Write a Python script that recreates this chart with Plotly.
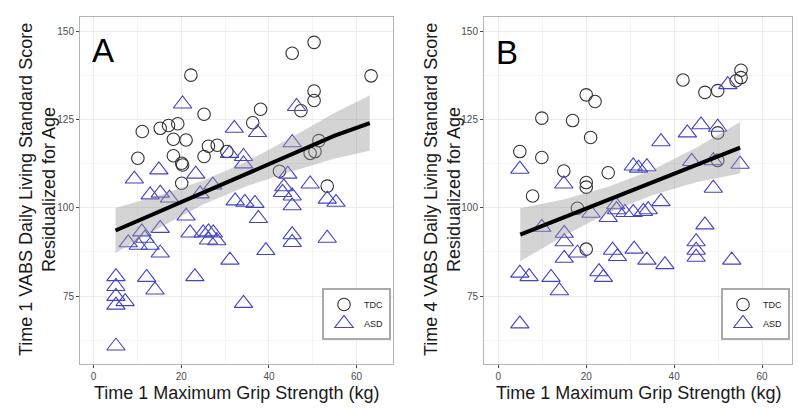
import plotly.graph_objects as go

# ---------------- data ----------------
# Panel A (Time 1)
A_tdc_x = [22.2, 25.2, 11.1, 15.2, 17.1, 19.2, 18.2, 21.1, 10.1, 18.2, 20.1, 20.3, 25.2, 26.2, 28.2,
           30.4, 36.3, 38.1, 20.1, 50.3, 45.3, 63.3, 50.3, 50.3, 47.3, 51.4, 49.4, 50.5, 42.4, 53.3]
A_tdc_y = [137.7, 126.6, 121.7, 122.6, 123.4, 123.9, 119.5, 119.3, 114.1, 114.8, 112.7, 112.2, 114.6, 117.5, 117.8,
           116.0, 124.2, 128.0, 107.0, 147.0, 143.9, 137.5, 133.2, 130.5, 127.6, 119.1, 115.5, 116.0, 110.4, 106.2]

A_asd_x = [20.3, 32.1, 31.0, 34.2, 34.2, 14.9, 9.3, 23.3, 27.2, 12.9, 15.2, 17.3, 24.3, 21.1, 15.2,
           11.0, 7.9, 10.2, 12.9, 11.7, 15.2, 22.0, 25.0, 26.2, 27.3, 26.2, 28.1, 31.1, 32.3, 34.5,
           36.8, 37.6, 5.1, 5.1, 5.1, 5.1, 7.2, 12.1, 14.0, 23.1, 34.2, 5.1, 46.3, 37.4, 45.3,
           44.3, 43.4, 49.4, 43.1, 45.3, 45.3, 53.3, 55.3, 45.3, 45.3, 53.3, 39.3]
A_asd_y = [129.5, 122.6, 115.5, 114.6, 112.5, 110.8, 108.2, 109.6, 106.5, 103.7, 104.2, 102.8, 104.0, 97.7, 94.2,
           93.2, 90.1, 89.4, 89.4, 91.4, 87.2, 92.9, 92.9, 93.2, 92.9, 90.9, 90.7, 85.2, 102.0, 101.6,
           101.3, 97.0, 80.5, 77.7, 74.9, 72.4, 73.4, 80.3, 76.7, 80.5, 72.9, 60.8, 128.8, 121.4, 118.5,
           109.6, 106.0, 106.8, 104.4, 103.4, 100.6, 102.5, 101.6, 92.4, 90.2, 91.4, 87.9]

A_band_x = [5, 15, 25, 35, 45, 55, 63]
A_fit = [93.6, 99.0, 104.4, 109.7, 115.1, 120.5, 124.1]
A_lo = [87.2, 94.4, 101.0, 106.2, 110.3, 114.0, 116.2]
A_hi = [100.0, 103.6, 107.8, 113.2, 119.9, 127.0, 132.0]

# Panel B (Time 4)
B_tdc_x = [20.0, 22.0, 9.9, 16.9, 21.0, 4.9, 9.9, 14.9, 20.0, 20.0, 25.0, 7.8, 18.0, 20.0,
           42.0, 47.0, 49.9, 54.1, 55.2, 55.2, 49.9, 49.9]
B_tdc_y = [132.1, 130.2, 125.5, 124.8, 120.0, 116.0, 114.3, 110.5, 107.2, 105.9, 110.0, 103.4, 99.9, 88.3,
           136.3, 132.8, 133.3, 136.1, 139.1, 137.0, 121.3, 113.5]

B_asd_x = [4.9, 14.9, 30.7, 31.9, 33.8, 21.1, 25.0, 26.9, 28.8, 30.7, 33.0, 26.7, 9.9, 15.0, 15.0,
           18.0, 15.0, 26.0, 27.1, 30.9, 33.8, 4.9, 7.0, 12.0, 13.9, 22.9, 23.9, 4.9, 52.2, 46.1,
           49.9, 43.0, 37.0, 44.0, 48.9, 55.0, 48.9, 37.0, 34.1, 47.0, 45.0, 45.0, 45.0, 37.9, 53.1]
B_asd_y = [111.0, 106.8, 111.9, 111.3, 111.7, 98.5, 97.3, 99.5, 98.7, 98.7, 99.0, 100.9, 94.5, 92.8, 90.4,
           87.2, 85.7, 88.0, 86.2, 88.3, 85.2, 81.5, 80.5, 80.3, 76.5, 81.9, 80.3, 67.1, 135.0, 123.6,
           122.9, 121.3, 118.8, 113.2, 113.4, 112.4, 105.6, 101.8, 99.5, 95.2, 90.4, 88.0, 86.0, 83.9, 85.2]

B_band_x = [5, 15, 25, 35, 45, 55]
B_fit = [92.4, 97.3, 102.3, 107.2, 112.2, 117.1]
B_lo = [84.9, 92.1, 98.6, 103.6, 107.3, 109.8]
B_hi = [99.9, 102.5, 106.0, 110.8, 117.1, 124.4]

x_ticks = [0, 20, 40, 60]
y_ticks = [75, 100, 125, 150]
x_title = "Time 1 Maximum Grip Strength (kg)"
yA_title = "Time 1 VABS Daily Living Standard Score<br>Residualized for Age"
yB_title = "Time 4 VABS Daily Living Standard Score<br>Residualized for Age"

# ---------------- styles ----------------
W, H = 799, 410
FONT = "Liberation Sans, Arial, Helvetica, sans-serif"
CIRC = "#333333"
TRI = "#4343c4"
BAND = "rgba(153,153,153,0.42)"

fig = go.Figure()


def add_panel(xs_t, ys_t, xs_a, ys_a, bx, fit, lo, hi, xa, ya, legend):
    fig.add_trace(go.Scatter(x=xs_t, y=ys_t, mode="markers", name="TDC",
                             marker=dict(symbol="circle-open", size=12.5, color=CIRC, line=dict(width=1.1)),
                             xaxis=xa, yaxis=ya, legend=legend))
    fig.add_trace(go.Scatter(x=xs_a, y=ys_a, mode="markers", name="ASD",
                             marker=dict(symbol="triangle-up-open", size=16, color=TRI, line=dict(width=1.1)),
                             xaxis=xa, yaxis=ya, legend=legend))
    fig.add_trace(go.Scatter(x=bx + bx[::-1], y=hi + lo[::-1], mode="lines", fill="toself",
                             fillcolor=BAND, line=dict(width=0), hoverinfo="skip",
                             showlegend=False, xaxis=xa, yaxis=ya))
    fig.add_trace(go.Scatter(x=bx, y=fit, mode="lines", line=dict(color="black", width=4),
                             showlegend=False, xaxis=xa, yaxis=ya))


add_panel(A_tdc_x, A_tdc_y, A_asd_x, A_asd_y, A_band_x, A_fit, A_lo, A_hi, "x", "y", "legend")
add_panel(B_tdc_x, B_tdc_y, B_asd_x, B_asd_y, B_band_x, B_fit, B_lo, B_hi, "x2", "y2", "legend2")

ydom = [1 - 364 / H, 1 - 17 / H]
axis_common = dict(showgrid=True, gridcolor="#ebebeb", gridwidth=1, zeroline=False,
                   showline=True, mirror=True, linecolor="#b5b5b5", linewidth=1, automargin=False,
                   ticks="outside", ticklen=3, tickcolor="#444444", tickwidth=1,
                   tickfont=dict(family=FONT, size=10, color="#4d4d4d"))

fig.update_layout(
    width=W, height=H, margin=dict(l=0, r=0, t=0, b=0, autoexpand=False),
    paper_bgcolor="white", plot_bgcolor="white",
    font=dict(family=FONT),
    xaxis=dict(domain=[80 / W, 393 / W], range=[-3.1, 68.3], tickvals=x_ticks,
               minor=dict(dtick=10, showgrid=True, gridcolor="#f4f4f4", ticklen=0), **axis_common),
    yaxis=dict(domain=ydom, range=[55.7, 154.2], tickvals=y_ticks, anchor="x",
               minor=dict(dtick=12.5, showgrid=True, gridcolor="#f4f4f4", ticklen=0), **axis_common),
    xaxis2=dict(domain=[484 / W, 792 / W], range=[-3.25, 66.8], tickvals=x_ticks, anchor="y2",
                minor=dict(dtick=10, showgrid=True, gridcolor="#f4f4f4", ticklen=0), **axis_common),
    yaxis2=dict(domain=ydom, range=[55.7, 154.2], tickvals=y_ticks, anchor="x2",
                minor=dict(dtick=12.5, showgrid=True, gridcolor="#f4f4f4", ticklen=0), **axis_common),
    legend=dict(x=391 / W, xanchor="right", y=1 - 288 / H, yanchor="top",
                bgcolor="white", bordercolor="#aaaaaa", borderwidth=2,
                font=dict(family=FONT, size=9, color="#222222"), tracegroupgap=0),
    legend2=dict(x=790 / W, xanchor="right", y=1 - 288 / H, yanchor="top",
                 bgcolor="white", bordercolor="#aaaaaa", borderwidth=2,
                 font=dict(family=FONT, size=9, color="#222222"), tracegroupgap=0),
    showlegend=True,
)

ann = []
ann.append(dict(text=x_title, x=(80 + 393) / 2 / W, y=1 - 393 / H, xref="paper", yref="paper",
                showarrow=False, xanchor="center", yanchor="middle",
                font=dict(family=FONT, size=18, color="#1a1a1a")))
ann.append(dict(text=x_title, x=(484 + 792) / 2 / W, y=1 - 393 / H, xref="paper", yref="paper",
                showarrow=False, xanchor="center", yanchor="middle",
                font=dict(family=FONT, size=18, color="#1a1a1a")))
ann.append(dict(text=yA_title, x=37 / W, y=1 - 190 / H, xref="paper", yref="paper", textangle=-90,
                showarrow=False, xanchor="center", yanchor="middle",
                font=dict(family=FONT, size=18, color="#1a1a1a")))
ann.append(dict(text=yB_title, x=442 / W, y=1 - 190 / H, xref="paper", yref="paper", textangle=-90,
                showarrow=False, xanchor="center", yanchor="middle",
                font=dict(family=FONT, size=18, color="#1a1a1a")))
ann.append(dict(text="A", x=102.5 / W, y=1 - 50 / H, xref="paper", yref="paper",
                showarrow=False, xanchor="center", yanchor="middle",
                font=dict(family=FONT, size=33, color="black")))
ann.append(dict(text="B", x=507 / W, y=1 - 52 / H, xref="paper", yref="paper",
                showarrow=False, xanchor="center", yanchor="middle",
                font=dict(family=FONT, size=33, color="black")))
fig.update_layout(annotations=ann)

fig.write_html("out.html", config={"displayModeBar": False})

# remove the browser's default body margin so the figure sits at the page's top-left corner
with open("out.html", encoding="utf-8") as f:
    html = f.read()
html = html.replace("<body>", '<body style="margin:0;padding:0;overflow:hidden;">', 1)
with open("out.html", "w", encoding="utf-8") as f:
    f.write(html)
